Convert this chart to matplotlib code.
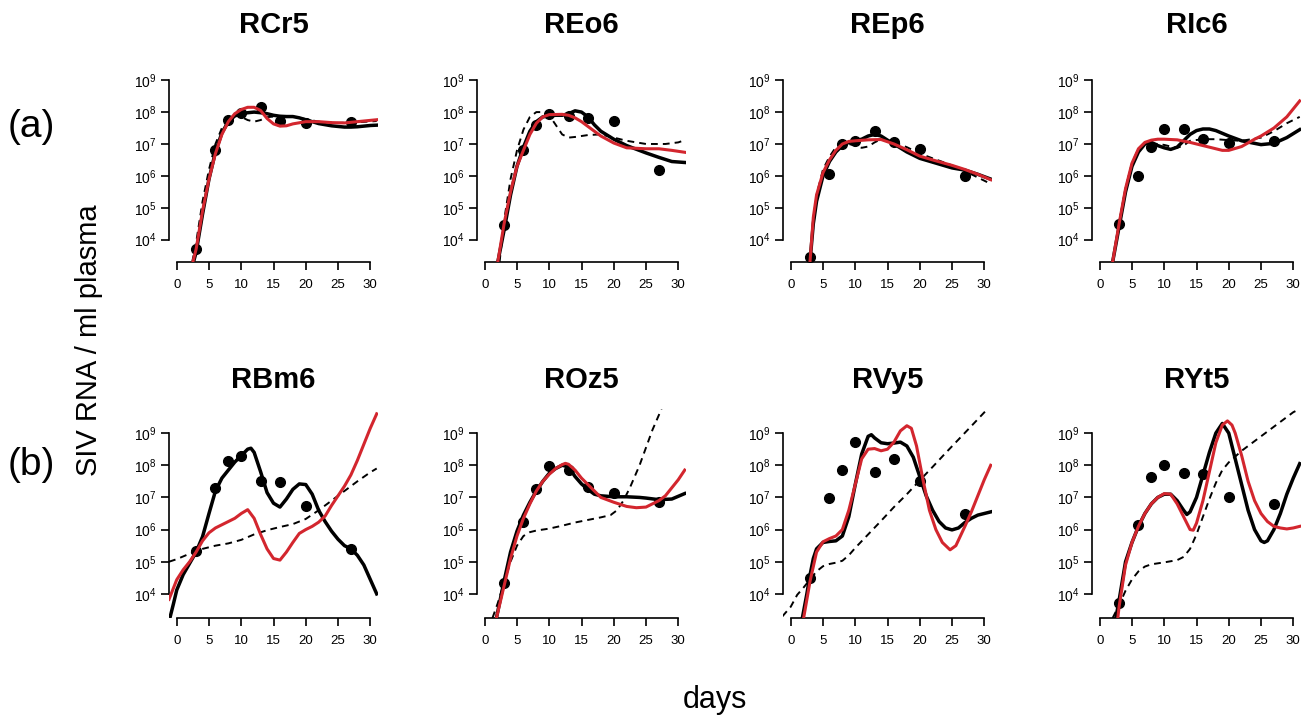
import matplotlib
matplotlib.use("Agg")
import matplotlib.pyplot as plt
import numpy as np

# Общие параметры: дни измерений (точки одинаковы для всех животных)
DOT_DAYS = [3, 6, 8, 10, 13, 16, 20, 27]

# Все значения ниже даны как log10(копий РНК / мл)

# --- RCr5 ---
rcr5_black_t = [2.6, 3, 4, 5, 6, 7, 8, 9, 10, 11, 12, 13, 14, 15, 16, 17, 18, 19, 20, 22, 24, 26, 27, 28, 30, 31]
rcr5_black_v = [3.3, 3.6, 4.8, 5.9, 6.75, 7.35, 7.7, 7.88, 7.95, 7.98, 8.0, 7.98, 7.95, 7.9, 7.87, 7.86, 7.86, 7.82,
                7.76, 7.64, 7.57, 7.53, 7.53, 7.54, 7.58, 7.59]
rcr5_red_t = [2.5, 3, 4, 5, 6, 7, 8, 9, 10, 11, 12, 13, 14, 15, 16, 17, 18, 20, 22, 24, 26, 28, 30, 31]
rcr5_red_v = [3.3, 3.7, 4.9, 5.9, 6.7, 7.3, 7.7, 7.95, 8.08, 8.15, 8.15, 8.05, 7.8, 7.63, 7.56, 7.57, 7.63, 7.7,
              7.7, 7.67, 7.66, 7.7, 7.74, 7.76]
rcr5_dash_t = [2.4, 3, 4, 5, 6, 7, 8, 9, 10, 11, 12, 13, 14, 16, 18, 20, 22, 25, 28, 31]
rcr5_dash_v = [3.3, 3.9, 5.2, 6.2, 7.0, 7.5, 7.8, 7.9, 7.85, 7.75, 7.7, 7.75, 7.84, 7.88, 7.86, 7.78, 7.7, 7.66,
               7.68, 7.72]
rcr5_dots = [3.71, 6.8, 7.76, 7.97, 8.16, 7.72, 7.66, 7.69]

# --- REo6 ---
reo6_black_t = [2.0, 3, 4, 5, 6, 7, 8, 9, 10, 11, 12, 13, 14, 15, 16, 17, 18, 20, 22, 25, 27, 29, 31]
reo6_black_v = [3.27, 4.3, 5.4, 6.3, 6.9, 7.4, 7.7, 7.85, 7.88, 7.9, 7.9, 7.95, 8.04, 8.0, 7.85, 7.6, 7.4, 7.15,
                6.95, 6.72, 6.58, 6.45, 6.42]
reo6_red_t = [2.0, 3, 4, 5, 6, 7, 8, 9, 10, 12, 13, 14, 15, 16, 17, 18, 20, 22, 25, 27, 29, 31]
reo6_red_v = [3.27, 4.5, 5.5, 6.3, 6.8, 7.3, 7.65, 7.85, 7.92, 7.93, 7.9, 7.82, 7.7, 7.55, 7.4, 7.25, 7.03, 6.88,
              6.85, 6.85, 6.8, 6.74]
reo6_dash_t = [2.3, 3, 4, 5, 6, 7, 8, 9, 10, 11, 12, 13, 14, 16, 18, 20, 22, 25, 28, 30, 31]
reo6_dash_v = [3.3, 4.6, 5.9, 6.8, 7.45, 7.85, 8.0, 8.0, 7.9, 7.6, 7.3, 7.2, 7.22, 7.28, 7.3, 7.2, 7.1, 7.0, 7.0,
               7.05, 7.12]
reo6_dots = [4.47, 6.82, 7.61, 7.95, 7.88, 7.8, 7.71, 6.19]

# --- REp6 ---
rep6_black_t = [3.0, 3.5, 4, 5, 6, 7, 8, 9, 10, 11, 12, 13, 14, 15, 16, 18, 20, 22, 25, 27, 29, 31]
rep6_black_v = [3.35, 4.5, 5.2, 6.0, 6.45, 6.75, 6.95, 7.05, 7.1, 7.15, 7.25, 7.3, 7.25, 7.12, 7.0, 6.75, 6.55,
                6.43, 6.25, 6.18, 6.05, 5.9]
rep6_red_t = [3.0, 3.5, 4, 5, 6, 7, 8, 9, 10, 12, 14, 16, 18, 20, 22, 25, 27, 29, 31]
rep6_red_v = [3.35, 4.7, 5.4, 6.1, 6.5, 6.8, 7.0, 7.08, 7.1, 7.13, 7.14, 7.0, 6.82, 6.62, 6.5, 6.33, 6.2, 6.05,
              5.88]
rep6_dash_t = [3.0, 4, 5, 6, 7, 8, 9, 10, 11, 12, 13, 14, 15, 16, 18, 20, 22, 25, 27, 29, 31]
rep6_dash_v = [3.4, 5.4, 6.2, 6.6, 6.9, 7.0, 7.0, 6.95, 6.88, 6.92, 7.05, 7.15, 7.12, 7.05, 6.9, 6.7, 6.55, 6.33,
               6.15, 5.95, 5.75]
rep6_dots = [3.45, 6.07, 6.99, 7.08, 7.4, 7.06, 6.83, 6.0]

# --- RIc6 ---
ric6_black_t = [2.0, 3, 4, 5, 6, 7, 8, 9, 10, 11, 12, 13, 14, 15, 16, 17, 18, 20, 22, 25, 27, 29, 31]
ric6_black_v = [3.3, 4.4, 5.5, 6.3, 6.75, 7.0, 7.05, 6.95, 6.88, 6.83, 6.9, 7.1, 7.3, 7.42, 7.47, 7.47, 7.42,
                7.25, 7.1, 6.98, 7.02, 7.2, 7.45]
ric6_red_t = [2.0, 3, 4, 5, 6, 7, 8, 9, 10, 12, 14, 16, 18, 19, 20, 22, 24, 25, 27, 29, 31]
ric6_red_v = [3.3, 4.5, 5.6, 6.4, 6.85, 7.05, 7.12, 7.15, 7.15, 7.13, 7.05, 6.95, 6.85, 6.8, 6.8, 6.92, 7.15,
              7.25, 7.5, 7.85, 8.35]
ric6_dash_t = [2.0, 3, 4, 5, 6, 7, 8, 9, 10, 11, 12, 13, 14, 16, 18, 20, 22, 25, 27, 29, 31]
ric6_dash_v = [3.3, 4.5, 5.6, 6.4, 6.85, 7.0, 7.02, 7.0, 6.97, 6.92, 6.88, 6.95, 7.1, 7.15, 7.15, 7.12, 7.1, 7.2,
               7.4, 7.65, 7.85]
ric6_dots = [4.5, 6.0, 6.91, 7.47, 7.48, 7.16, 7.03, 7.1]

# --- RBm6 ---
rbm6_black_t = [-1, -0.5, 0, 1, 2, 3, 4, 5, 6, 7, 8, 9, 10, 11, 11.5, 12, 13, 14, 15, 16, 17, 18, 19, 20, 21, 22,
                23, 24, 25, 26, 27, 28, 29, 30, 31]
rbm6_black_v = [3.3, 3.7, 4.12, 4.6, 4.95, 5.3, 5.78, 6.5, 7.2, 7.6, 7.85, 8.1, 8.3, 8.5, 8.53, 8.4, 7.8, 7.15,
                6.82, 6.7, 6.95, 7.25, 7.42, 7.4, 7.1, 6.6, 6.25, 5.95, 5.7, 5.5, 5.4, 5.2, 4.9, 4.45, 4.0]
rbm6_red_t = [-1.2, 0, 1, 2, 3, 4, 5, 6, 7, 8, 9, 10, 11, 12, 13, 14, 15, 16, 17, 18, 19, 20, 21, 22, 23, 24, 25,
              26, 27, 28, 29, 30, 31]
rbm6_red_v = [3.83, 4.44, 4.75, 5.0, 5.3, 5.65, 5.9, 6.05, 6.15, 6.25, 6.35, 6.5, 6.62, 6.35, 5.85, 5.4, 5.1,
              5.05, 5.3, 5.6, 5.88, 6.0, 6.1, 6.23, 6.42, 6.75, 7.05, 7.35, 7.7, 8.15, 8.65, 9.15, 9.6]
rbm6_dash_t = [-1.2, 0, 2, 4, 6, 8, 10, 12, 14, 16, 18, 20, 22, 24, 26, 28, 30, 31]
rbm6_dash_v = [5.0, 5.08, 5.25, 5.4, 5.5, 5.57, 5.68, 5.85, 5.98, 6.08, 6.17, 6.33, 6.6, 6.9, 7.2, 7.5, 7.78, 7.9]
rbm6_dots = [5.32, 7.29, 8.12, 8.29, 7.5, 7.48, 6.74, 5.39]

# --- ROz5 ---
roz5_black_t = [1.8, 3, 4, 5, 6, 7, 8, 9, 10, 11, 12, 13, 14, 15, 16, 17, 18, 20, 22, 24, 25, 27, 29, 31]
roz5_black_v = [3.24, 4.4, 5.3, 5.95, 6.45, 6.85, 7.2, 7.5, 7.75, 7.9, 8.0, 7.95, 7.65, 7.42, 7.25, 7.1, 7.05,
                7.02, 7.02, 7.0, 6.98, 6.93, 6.95, 7.12]
roz5_red_t = [1.8, 3, 4, 5, 6, 7, 8, 9, 10, 11, 12, 12.5, 13, 14, 15, 16, 17, 18, 20, 22, 23.5, 25, 27, 28, 29,
              30, 31]
roz5_red_v = [3.24, 4.25, 5.1, 5.8, 6.35, 6.8, 7.2, 7.5, 7.72, 7.9, 8.02, 8.06, 8.03, 7.85, 7.6, 7.4, 7.2, 7.0,
              6.85, 6.72, 6.68, 6.7, 6.9, 7.05, 7.3, 7.55, 7.85]
roz5_dash_t = [1.2, 2, 3, 4, 5, 6, 7, 8, 10, 12, 14, 16, 18, 19.5, 20.5, 21.5, 22.5, 24, 26, 27.4]
roz5_dash_v = [3.25, 3.7, 4.35, 5.0, 5.5, 5.8, 5.92, 5.97, 6.03, 6.12, 6.22, 6.3, 6.38, 6.45, 6.6, 6.9, 7.3, 8.0,
               9.1, 9.75]
roz5_dots = [4.35, 6.23, 7.26, 7.98, 7.84, 7.31, 7.13, 6.87]

# --- RVy5 ---
rvy5_black_t = [1.8, 2.5, 3, 3.5, 4, 5, 6, 7, 8, 9, 10, 11, 12, 12.5, 13, 14, 15, 16, 17, 18, 19, 20, 21, 22, 23,
                24, 25, 26, 27, 28, 29, 30, 31]
rvy5_black_v = [3.25, 4.0, 4.6, 5.1, 5.4, 5.6, 5.63, 5.65, 5.8, 6.4, 7.4, 8.35, 8.9, 8.95, 8.85, 8.7, 8.67, 8.69,
                8.72, 8.6, 8.25, 7.65, 7.05, 6.6, 6.25, 6.05, 5.99, 6.05, 6.22, 6.35, 6.45, 6.5, 6.55]
rvy5_red_t = [2.0, 3, 4, 5, 6, 7, 8, 9, 10, 11, 12, 13, 14, 15, 16, 17, 18, 18.7, 19.5, 20.5, 21.5, 22.5, 23.5,
              24.7, 25.6, 27, 28, 29, 30, 31]
rvy5_red_v = [3.25, 4.4, 5.3, 5.62, 5.72, 5.8, 6.0, 6.6, 7.4, 8.2, 8.5, 8.52, 8.45, 8.5, 8.72, 9.07, 9.23, 9.15,
              8.6, 7.55, 6.6, 6.0, 5.6, 5.37, 5.5, 6.1, 6.55, 7.05, 7.55, 8.0]
rvy5_dash_t = [-1.3, 0, 1, 2, 3, 4, 5, 6, 7, 8, 9, 10, 12, 14, 16, 18, 20, 22, 24, 26, 28, 30.5]
rvy5_dash_v = [3.3, 3.6, 3.97, 4.2, 4.45, 4.7, 4.86, 4.93, 4.97, 5.03, 5.2, 5.43, 5.85, 6.27, 6.7, 7.1, 7.53, 7.95,
               8.38, 8.8, 9.22, 9.75]
rvy5_dots = [4.5, 6.98, 7.86, 8.72, 7.79, 8.19, 7.52, 6.48]

# --- RYt5 ---
ryt5_black_t = [2.5, 3, 4, 5, 6, 7, 8, 9, 10, 11, 12, 13, 13.5, 14, 15, 16, 17, 18, 19, 20, 21, 22, 23, 24, 25,
                25.5, 26, 27, 28, 29, 30, 31]
ryt5_black_v = [3.25, 3.8, 5.0, 5.6, 6.1, 6.5, 6.8, 7.0, 7.1, 7.1, 6.9, 6.6, 6.47, 6.55, 7.0, 7.7, 8.4, 9.0, 9.3,
                9.0, 8.2, 7.4, 6.6, 6.0, 5.65, 5.6, 5.65, 6.0, 6.5, 7.1, 7.6, 8.05]
ryt5_red_t = [2.8, 3, 4, 5, 6, 7, 8, 9, 10, 11, 12, 13, 14, 14.5, 15, 16, 17, 18, 19, 19.8, 20.5, 21, 22, 23, 24,
              25, 26, 27, 28, 29, 30, 31]
ryt5_red_v = [3.25, 3.6, 4.9, 5.6, 6.1, 6.5, 6.8, 7.0, 7.12, 7.1, 6.8, 6.4, 6.0, 5.98, 6.2, 6.9, 7.8, 8.7, 9.25,
              9.38, 9.25, 9.0, 8.3, 7.5, 6.9, 6.5, 6.25, 6.1, 6.05, 6.02, 6.05, 6.1]
ryt5_dash_t = [2.0, 3, 4, 5, 6, 7, 8, 10, 12, 13, 14, 15, 16, 17, 18, 19, 20, 22, 24, 26, 28, 30, 31]
ryt5_dash_v = [3.25, 3.65, 4.1, 4.45, 4.7, 4.85, 4.92, 4.98, 5.05, 5.15, 5.4, 5.85, 6.4, 6.95, 7.45, 7.85, 8.09,
               8.45, 8.75, 9.05, 9.35, 9.65, 9.75]
ryt5_dots = [3.71, 6.14, 7.62, 8.02, 7.75, 7.73, 7.02, 6.81]

# Таблица панелей: (название, строка, столбец, кривые)
PANELS = [
    ("RCr5", 0, 0, rcr5_black_t, rcr5_black_v, rcr5_red_t, rcr5_red_v, rcr5_dash_t, rcr5_dash_v, rcr5_dots),
    ("REo6", 0, 1, reo6_black_t, reo6_black_v, reo6_red_t, reo6_red_v, reo6_dash_t, reo6_dash_v, reo6_dots),
    ("REp6", 0, 2, rep6_black_t, rep6_black_v, rep6_red_t, rep6_red_v, rep6_dash_t, rep6_dash_v, rep6_dots),
    ("RIc6", 0, 3, ric6_black_t, ric6_black_v, ric6_red_t, ric6_red_v, ric6_dash_t, ric6_dash_v, ric6_dots),
    ("RBm6", 1, 0, rbm6_black_t, rbm6_black_v, rbm6_red_t, rbm6_red_v, rbm6_dash_t, rbm6_dash_v, rbm6_dots),
    ("ROz5", 1, 1, roz5_black_t, roz5_black_v, roz5_red_t, roz5_red_v, roz5_dash_t, roz5_dash_v, roz5_dots),
    ("RVy5", 1, 2, rvy5_black_t, rvy5_black_v, rvy5_red_t, rvy5_red_v, rvy5_dash_t, rvy5_dash_v, rvy5_dots),
    ("RYt5", 1, 3, ryt5_black_t, ryt5_black_v, ryt5_red_t, ryt5_red_v, ryt5_dash_t, ryt5_dash_v, ryt5_dots),
]

RED = "#d3262e"
FIG_W, FIG_H = 1308, 716

# Положение осей в пикселях
COL_LEFT = [169, 477, 783, 1092]
AX_WIDTH = 209
ROW_TOP = [77, 409]
ROW_BOTTOM = [262, 618]
ROW_YLIM = [(3.3, 9.1), (3.25, 9.75)]
TITLE_Y = [25, 380]

plt.rcParams["font.family"] = ["Liberation Sans", "DejaVu Sans"]
plt.rcParams["mathtext.fontset"] = "custom"
plt.rcParams["mathtext.rm"] = "Liberation Sans"
plt.rcParams["mathtext.it"] = "Liberation Sans:italic"
plt.rcParams["mathtext.bf"] = "Liberation Sans:bold"


def to_linear(values):
    """Перевод log10-значений в копии / мл."""
    return 10.0 ** np.asarray(values)


def draw_panel(fig, name, row, col, bt, bv, rt, rv, dt, dv, dots):
    """Построение одной панели в стиле графиков R."""
    left = COL_LEFT[col] / FIG_W
    bottom = 1 - ROW_BOTTOM[row] / FIG_H
    height = (ROW_BOTTOM[row] - ROW_TOP[row]) / FIG_H
    ax = fig.add_axes([left, bottom, AX_WIDTH / FIG_W, height])

    ax.set_yscale("log")
    ax.set_xlim(-1.2, 31.2)
    lo, hi = ROW_YLIM[row]
    ax.set_ylim(10 ** lo, 10 ** hi)

    # Точки измерений и три модельные кривые
    ax.plot(DOT_DAYS, to_linear(dots), "o", color="black", markersize=7, zorder=2)
    ax.plot(dt, to_linear(dv), color="black", lw=1.4, dashes=(3.5, 2.6), zorder=3)
    ax.plot(bt, to_linear(bv), color="black", lw=2.5, zorder=4)
    ax.plot(rt, to_linear(rv), color=RED, lw=2.2, zorder=5)

    # Оси как в R: отдельные линии только в пределах делений
    for side in ("top", "right"):
        ax.spines[side].set_visible(False)
    ax.spines["left"].set_bounds(1e4, 1e9)
    ax.spines["bottom"].set_bounds(0, 30)
    ax.spines["left"].set_linewidth(1.2)
    ax.spines["bottom"].set_linewidth(1.2)

    ax.set_xticks([0, 5, 10, 15, 20, 25, 30])
    ax.set_yticks([10.0 ** k for k in range(4, 10)])
    ax.set_yticklabels([rf"$10^{{{k}}}$" for k in range(4, 10)])
    ax.yaxis.set_minor_locator(plt.NullLocator())
    ax.tick_params(axis="both", direction="out", length=6, width=1.2)
    ax.tick_params(axis="x", labelsize=9.5, pad=6)
    ax.tick_params(axis="y", labelsize=10, pad=3)

    cx = (COL_LEFT[col] + AX_WIDTH / 2) / FIG_W
    fig.text(cx, 1 - TITLE_Y[row] / FIG_H, name, ha="center", va="center",
             fontsize=21, fontweight="bold")


def main():
    fig = plt.figure(figsize=(FIG_W / 100, FIG_H / 100), dpi=100)

    for panel in PANELS:
        draw_panel(fig, *panel)

    # Общие подписи
    fig.text(31 / FIG_W, 1 - 127 / FIG_H, "(a)", ha="center", va="center", fontsize=28)
    fig.text(31 / FIG_W, 1 - 465 / FIG_H, "(b)", ha="center", va="center", fontsize=28)
    fig.text(89 / FIG_W, 1 - 340 / FIG_H, "SIV RNA / ml plasma", rotation=90,
             ha="center", va="center", fontsize=21)
    fig.text(715 / FIG_W, 1 - 700 / FIG_H, "days", ha="center", va="center", fontsize=22)

    fig.savefig("out.png", dpi=100)


if __name__ == "__main__":
    main()
